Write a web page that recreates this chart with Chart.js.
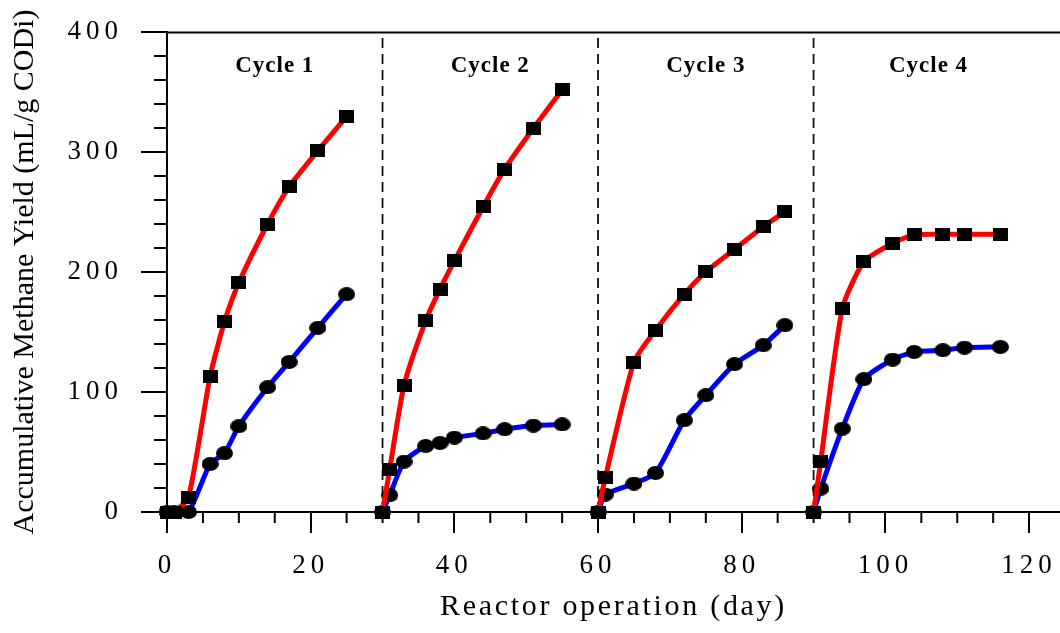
<!DOCTYPE html>
<html>
<head>
<meta charset="utf-8">
<script src="https://cdn.jsdelivr.net/npm/chart.js@4.4.1/dist/chart.umd.min.js"></script>
<style>
  html, body { margin: 0; padding: 0; background: #fff; }
  #wrap { width: 1060px; height: 633px; }
</style>
</head>
<body>
<div id="wrap"><canvas id="yieldChart"></canvas></div>
<script>
// Días de operación y rendimiento acumulado (mL/g CODi) por ciclo
const cycle1Days = [0, 1, 3, 6, 8, 10, 14, 17, 21, 25];
const cycle1Red  = [0, 0, 12.5, 113, 158.5, 191, 240, 271, 301, 329.5];
const cycle1Blue = [0, 0, 0, 40, 49, 71.5, 104, 125, 153.5, 181.5];

const cycle2Days = [30, 31, 33, 36, 38, 40, 44, 47, 51, 55];
const cycle2Red  = [0, 35.6, 105.7, 159.3, 185.7, 209.3, 254.4, 285.8, 319.8, 351.7];
const cycle2Blue = [0, 14, 42, 55, 57.5, 62, 65.5, 69, 72, 73];

const cycle3Days = [60, 61, 65, 68, 72, 75, 79, 83, 86];
const cycle3Red  = [0, 28.4, 125, 151.5, 181.6, 200.2, 219, 237.7, 250.2];
const cycle3Blue = [0, 14.5, 23.7, 32.5, 76.5, 97.3, 123.2, 139, 155.7];

const cycle4Days = [90, 91, 94, 97, 101, 104, 108, 111, 116];
const cycle4Red  = [0, 42.5, 169.6, 208.5, 224, 231, 231.5, 231.5, 231.5];
const cycle4Blue = [0, 19.5, 69.5, 110.7, 127, 133.4, 134.8, 137, 137.6];

const cycleNames  = ['Cycle 1', 'Cycle 2', 'Cycle 3', 'Cycle 4'];
const cycleRanges = [[0, 30], [30, 60], [60, 90], [90, 122]];
const cycleStarts = [30, 60, 90];

const xTicks = [0, 20, 40, 60, 80, 100, 120];
const yTicks = [0, 100, 200, 300, 400];

const xTitle = 'Reactor operation (day)';
const yTitle = 'Accumulative Methane Yield (mL/g CODi)';

const SERIF = '"Liberation Serif", "Times New Roman", serif';

// Marcadores: cuadrado algo ancho y círculo achatado
function marker(shape, w, h) {
  const c = document.createElement('canvas');
  c.width = w; c.height = h;
  const g = c.getContext('2d');
  g.fillStyle = '#000';
  if (shape === 'rect') {
    g.fillRect(0, 0, w, h);
  } else {
    g.beginPath();
    g.ellipse(w / 2, h / 2, w / 2, h / 2, 0, 0, Math.PI * 2);
    g.fill();
  }
  return c;
}
const squareMark = marker('rect', 15, 13);
const dotMark = marker('ellipse', 17, 14);

const toPoints = (days, vals) => days.map((d, i) => ({ x: d, y: vals[i] }));

const cycles = [
  [cycle1Days, cycle1Red, cycle1Blue],
  [cycle2Days, cycle2Red, cycle2Blue],
  [cycle3Days, cycle3Red, cycle3Blue],
  [cycle4Days, cycle4Red, cycle4Blue]
];

const datasets = [];
cycles.forEach(([days, red, blue]) => {
  datasets.push({
    data: toPoints(days, red), borderColor: '#ff0000', borderWidth: 5,
    pointStyle: squareMark, pointRadius: 7, order: 1
  });
  datasets.push({
    data: toPoints(days, blue), borderColor: '#0000ff', borderWidth: 5,
    pointStyle: dotMark, pointRadius: 7, order: 2
  });
});
// Separadores discontinuos entre ciclos
cycleStarts.forEach(d => {
  datasets.push({
    data: [{ x: d, y: yTicks[0] }, { x: d, y: yTicks[yTicks.length - 1] }],
    borderColor: '#111', borderWidth: 1.8, borderDash: [10, 6],
    pointRadius: 0, tension: 0, order: 3
  });
});

// Ticks menores, borde superior, rótulos de ciclo y títulos de ejes
const decor = {
  id: 'decor',
  beforeDraw(chart) {
    chart.ctx.letterSpacing = '5px';
  },
  afterDraw(chart) {
    const { ctx, chartArea: a, scales: { x, y } } = chart;
    ctx.save();
    ctx.strokeStyle = '#000';
    ctx.lineWidth = 2;
    ctx.beginPath();
    ctx.moveTo(a.left, a.top + 0.5);
    ctx.lineTo(chart.width, a.top + 0.5);
    for (let d = 5; d < x.max; d += 5) {
      if (d % 20 === 0) continue;
      const px = x.getPixelForValue(d);
      ctx.moveTo(px, a.bottom);
      ctx.lineTo(px, a.bottom + 11);
    }
    for (let v = 20; v < y.max; v += 20) {
      if (v % 100 === 0) continue;
      const py = y.getPixelForValue(v);
      ctx.moveTo(a.left - 13, py);
      ctx.lineTo(a.left, py);
    }
    ctx.stroke();

    ctx.fillStyle = '#000';
    ctx.textAlign = 'center';
    ctx.textBaseline = 'alphabetic';
    ctx.letterSpacing = '1px';
    ctx.font = 'bold 23px ' + SERIF;
    cycleNames.forEach((name, i) => {
      const [s, e] = cycleRanges[i];
      ctx.fillText(name, x.getPixelForValue((s + e) / 2), a.top + 40);
    });

    ctx.font = '30px ' + SERIF;
    ctx.letterSpacing = '2.7px';
    ctx.fillText(xTitle, (a.left + a.right) / 2, chart.height - 18);

    ctx.letterSpacing = '0px';
    ctx.translate(33, (a.top + a.bottom) / 2);
    ctx.rotate(-Math.PI / 2);
    ctx.fillText(yTitle, 0, 0);
    ctx.restore();
  }
};

new Chart(document.getElementById('yieldChart'), {
  type: 'line',
  data: { datasets },
  plugins: [decor],
  options: {
    responsive: true,
    maintainAspectRatio: false,
    animation: false,
    clip: false,
    layout: { autoPadding: false, padding: { top: 32, left: 0, right: 0, bottom: 0 } },
    elements: {
      line: { tension: 0.2, fill: false },
      point: { backgroundColor: '#000', borderWidth: 0 }
    },
    plugins: { legend: { display: false }, tooltip: { enabled: false } },
    scales: {
      x: {
        type: 'linear',
        min: 0,
        max: 124.3,
        afterBuildTicks: s => { s.ticks = xTicks.map(v => ({ value: v })); },
        afterFit: s => { s.height = 121; s.paddingLeft = 0; s.paddingRight = 0; },
        grid: { drawOnChartArea: false, tickLength: 21, lineWidth: 2, color: '#000' },
        border: { color: '#000', width: 2 },
        ticks: { padding: 0, color: '#000', font: { family: SERIF, size: 27, lineHeight: 2.45 }, maxRotation: 0 }
      },
      y: {
        min: 0,
        max: 400,
        afterBuildTicks: s => { s.ticks = yTicks.map(v => ({ value: v })); },
        afterFit: s => { s.width = 167; s.paddingTop = 0; s.paddingBottom = 0; },
        grid: { drawOnChartArea: false, tickLength: 26, lineWidth: 2, color: '#000' },
        border: { color: '#000', width: 2 },
        ticks: { padding: 18, color: '#000', font: { family: SERIF, size: 27 } }
      }
    }
  }
});
</script>
</body>
</html>
